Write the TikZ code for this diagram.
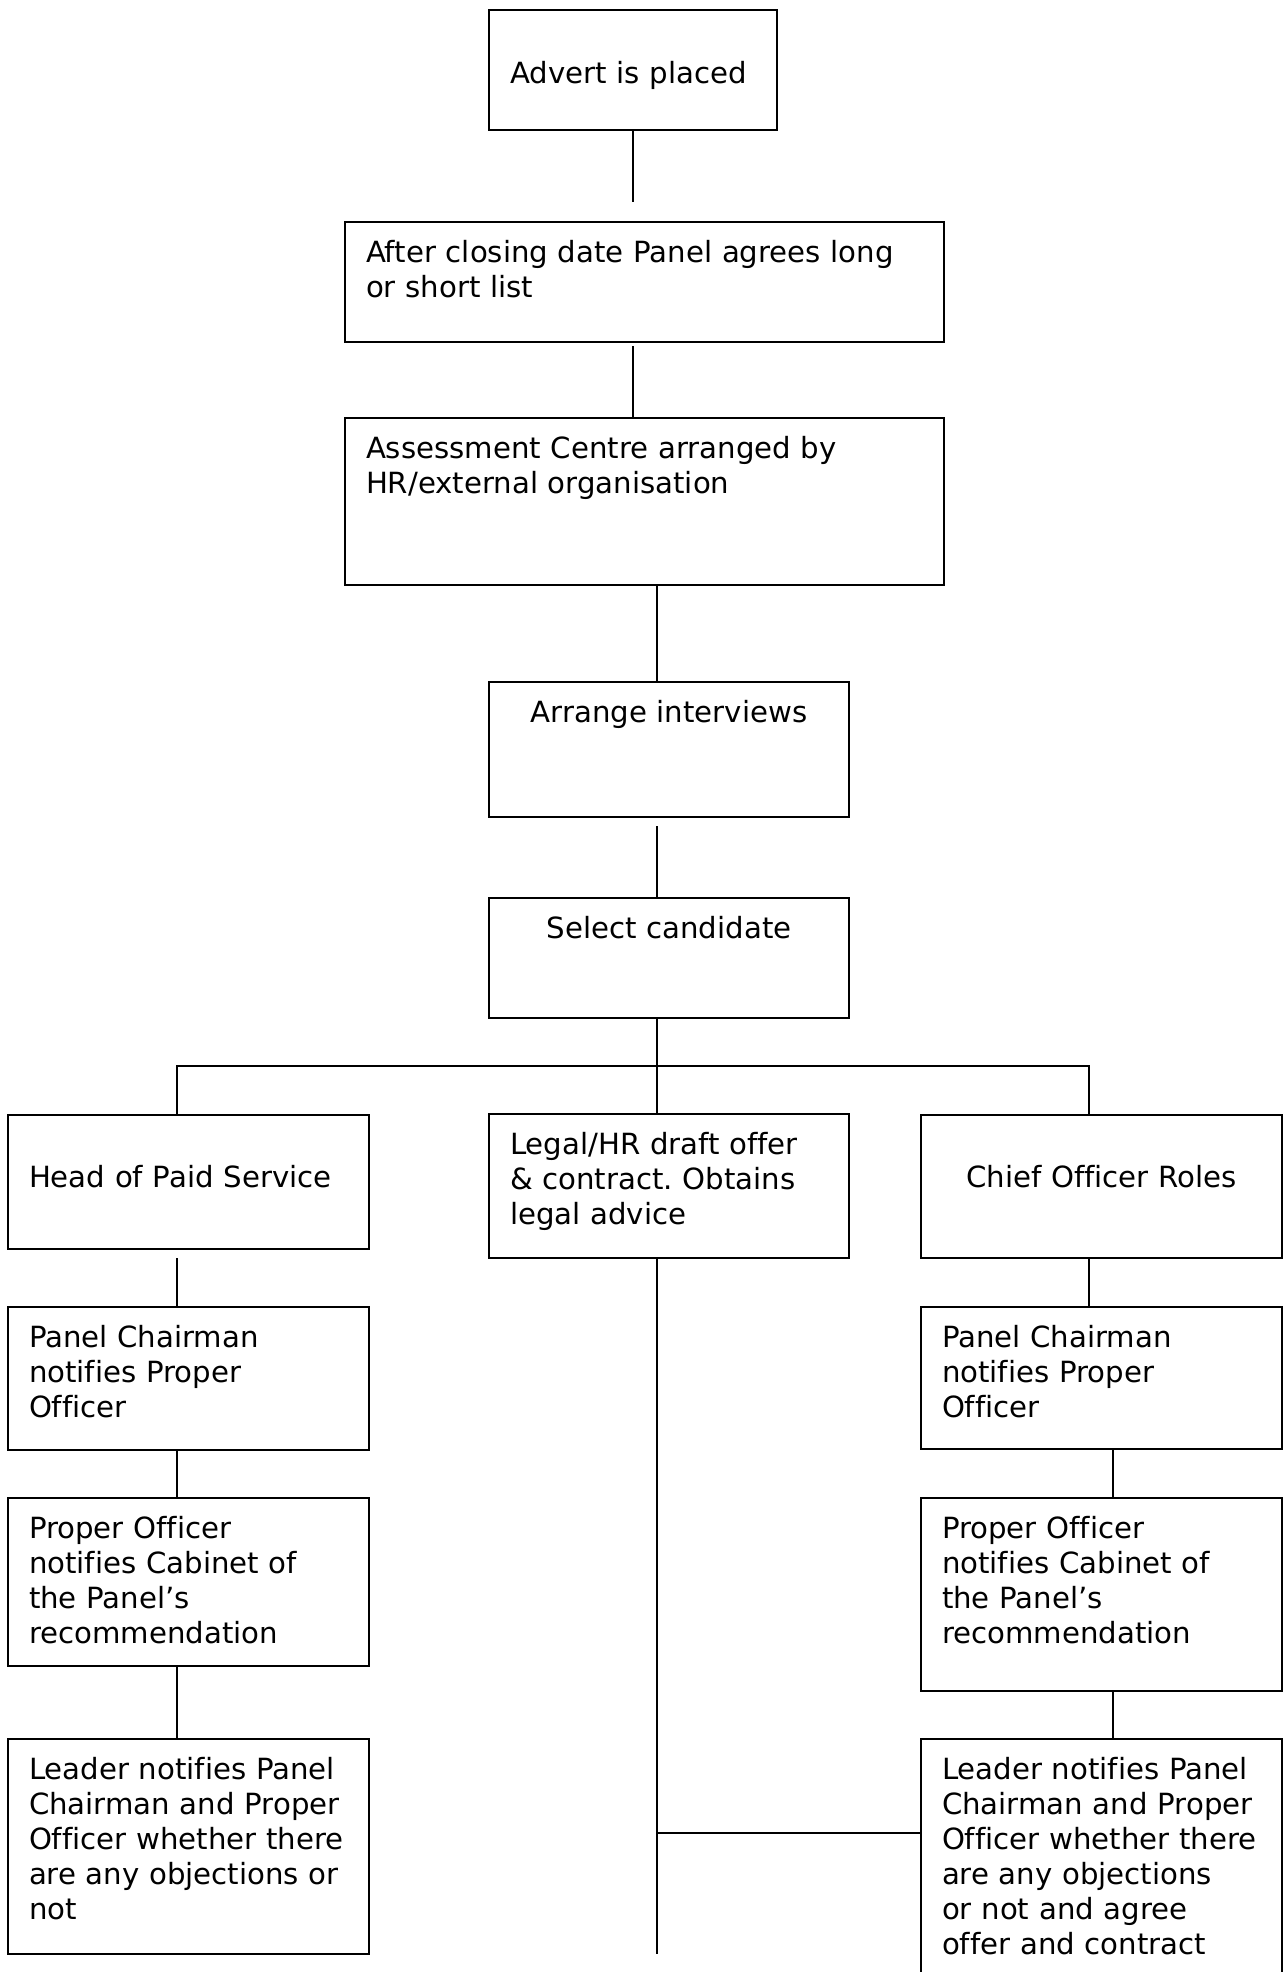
\documentclass[tikz,border=0pt]{standalone}
\usepackage{fontspec}
\setmainfont[Ligatures=NoCommon]{DejaVu Sans}
\frenchspacing
\tikzset{
  stepbox/.style={draw, line width=1pt, anchor=north west, outer sep=0pt,
    inner xsep=10.5pt, inner ysep=0pt, align=left, text height=20pt,
    font=\fontsize{14.6}{17.5}\selectfont},
  link/.style={line width=1pt},
}
\begin{document}
\begin{tikzpicture}[x=0.5pt,y=-0.5pt]
	\useasboundingbox (0,0) rectangle (1284,1972); % page

	\node[stepbox,text width=123pt,text height=36.5pt,text depth=23.5pt] (advert) at (489,10) {Advert is placed}; % start
	\node[stepbox,text width=278.5pt,text depth=40pt] (closing) at (345,222) {After closing date Panel agrees long\\or short list};
	\node[stepbox,text width=278.5pt,text depth=63.5pt] (assess) at (345,418) {Assessment Centre arranged by\\HR/external organisation};
	\node[stepbox,text width=159pt,text depth=47.5pt,align=center] (arrange) at (489,682) {Arrange interviews};
	\node[stepbox,text width=159pt,text depth=40pt,align=center] (select) at (489,898) {Select candidate};

	\node[stepbox,text width=159.5pt,text height=36pt,text depth=31pt] (head) at (8,1115) {Head of Paid Service}; % left branch
	\node[stepbox,text width=159pt,text depth=52pt] (legal) at (489,1114) {Legal/HR draft offer\\\& contract. Obtains\\legal advice}; % middle branch
	\node[stepbox,text width=159.5pt,text height=36pt,text depth=35.5pt,align=center] (chief) at (921,1115) {Chief Officer Roles}; % right branch

	\node[stepbox,text width=159.5pt,text depth=51.5pt] (panelL) at (8,1307) {Panel Chairman\\notifies Proper\\Officer};
	\node[stepbox,text width=159.5pt,text depth=64pt] (properL) at (8,1498) {Proper Officer\\notifies Cabinet of\\the Panel’s\\recommendation};
	\node[stepbox,text width=159.5pt,text depth=87.5pt] (leaderL) at (8,1739) {Leader notifies Panel\\Chairman and Proper\\Officer whether there\\are any objections or\\not};

	\node[stepbox,text width=159.5pt,text depth=51pt] (panelR) at (921,1307) {Panel Chairman\\notifies Proper\\Officer};
	\node[stepbox,text width=159.5pt,text depth=76.5pt] (properR) at (921,1498) {Proper Officer\\notifies Cabinet of\\the Panel’s\\recommendation};
	\node[stepbox,text width=159.5pt,text depth=130pt] (leaderR) at (921,1739) {Leader notifies Panel\\Chairman and Proper\\Officer whether there\\are any objections\\or not and agree\\offer and contract}; % runs off the page

	\coordinate (spine) at (633,0); % top connectors
	\coordinate (trunk) at (657,0); % middle connectors
	\coordinate (leftline) at (177,0);
	\coordinate (rightline) at (1089,0);
	\coordinate (rightlow) at (1113,0);
	\coordinate (bar) at (0,1066); % split
	\coordinate (join) at (0,1833); % tie to right leader box

	\draw[link,shorten >=10pt] (advert.south -| spine) -- (closing.north -| spine);
	\draw[link,shorten <=2pt] (closing.south -| spine) -- (assess.north -| spine);
	\draw[link] (assess.south -| trunk) -- (arrange.north -| trunk);
	\draw[link,shorten <=4.5pt] (arrange.south -| trunk) -- (select.north -| trunk);
	\draw[link] (select.south -| trunk) -- (legal.north -| trunk);
	\draw[link] (head.north -| leftline) -- (bar -| leftline) -- (bar -| rightline) -- (chief.north -| rightline);

	\draw[link,shorten <=4.5pt] (head.south -| leftline) -- (panelL.north -| leftline);
	\draw[link] (panelL.south -| leftline) -- (properL.north -| leftline);
	\draw[link] (properL.south -| leftline) -- (leaderL.north -| leftline);

	\draw[link] (chief.south -| rightline) -- (panelR.north -| rightline);
	\draw[link] (panelR.south -| rightlow) -- (properR.north -| rightlow);
	\draw[link] (properR.south -| rightlow) -- (leaderR.north -| rightlow);

	\draw[link] (legal.south -| trunk) -- (leaderL.south -| trunk); % long middle line
	\draw[link] (join -| trunk) -- (join -| leaderR.west);
\end{tikzpicture}
\end{document}
